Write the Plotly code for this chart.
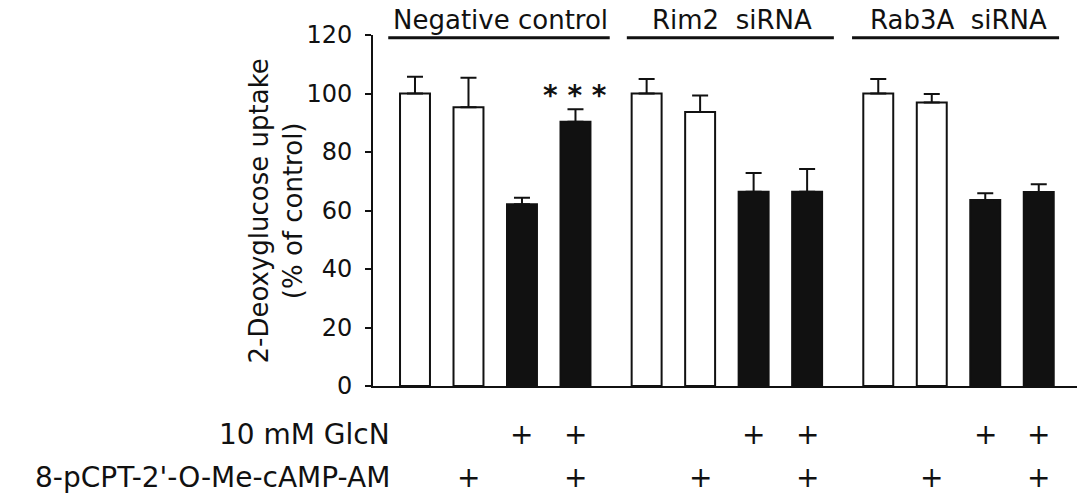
import plotly.graph_objects as go

# ---- data ----
groups = ["Negative control", "Rim2\u00a0 siRNA", "Rab3A\u00a0 siRNA"]
values = [100, 95.3, 62.1, 90.3, 100, 93.7, 66.4, 66.4, 100, 96.9, 63.6, 66.3]
errors = [5.7, 10.1, 2.3, 4.3, 5.0, 5.6, 6.4, 7.8, 5.0, 2.9, 2.3, 2.7]
filled = [0, 0, 1, 1, 0, 0, 1, 1, 0, 0, 1, 1]
glcn = [0, 0, 1, 1, 0, 0, 1, 1, 0, 0, 1, 1]
camp = [0, 1, 0, 1, 0, 1, 0, 1, 0, 1, 0, 1]
row_labels = ["10 mM GlcN", "8-pCPT-2'-O-Me-cAMP-AM"]
signif = {3: "<b>* * *</b>"}
yticks = [0, 20, 40, 60, 80, 100, 120]

# ---- layout helpers ----
per_group = 4
gap = 0.33
xpos = [(i // per_group) * (per_group + gap) + (i % per_group) for i in range(len(values))]
xmin, xmax = -0.785, 12.375
FONT = "DejaVu Sans"
INK = "#111111"

def xpaper(v):
    return (v - xmin) / (xmax - xmin)

fig = go.Figure()
fig.add_trace(go.Bar(
    x=xpos, y=values, width=0.56,
    marker=dict(color=[INK if f else "white" for f in filled],
                line=dict(color=INK, width=2)),
    error_y=dict(type="data", symmetric=False, array=errors,
                 arrayminus=[0] * len(errors), color=INK, thickness=2, width=8),
    showlegend=False, hoverinfo="skip",
))

ann = []
# group labels and underlines
ul_off = [(-0.50, 0.64), (-0.37, 0.50), (-0.49, 0.38)]
label_shift = [0.09, 0.09, 0.0]
shapes = []
for g, name in enumerate(groups):
    first = xpos[g * per_group]
    last = xpos[g * per_group + per_group - 1]
    x0 = first + ul_off[g][0]
    x1 = last + ul_off[g][1]
    shapes.append(dict(type="line", xref="paper", yref="paper",
                       x0=xpaper(x0), x1=xpaper(x1), y0=0.9923, y1=0.9923,
                       line=dict(color=INK, width=3)))
    ann.append(dict(text=name, xref="paper", yref="paper",
                    x=xpaper((first + last) / 2 + label_shift[g]), y=1.044,
                    xanchor="center", yanchor="middle", showarrow=False,
                    font=dict(family=FONT, size=26, color=INK)))

# significance
for i, s in signif.items():
    ann.append(dict(text=s, x=xpos[i], y=values[i] + errors[i], xref="x", yref="y",
                    xanchor="center", yanchor="middle", yshift=14, showarrow=False,
                    font=dict(family=FONT, size=28, color=INK)))

# treatment rows
row_y = [-0.1396, -0.2593]
for r, flags in enumerate([glcn, camp]):
    ann.append(dict(text=row_labels[r], xref="paper", yref="paper",
                    x=0.027, y=row_y[r], xanchor="right", yanchor="middle",
                    showarrow=False, font=dict(family=FONT, size=28, color=INK)))
    for i, f in enumerate(flags):
        if f:
            ann.append(dict(text="+", xref="x", yref="paper", x=xpos[i], y=row_y[r],
                            xanchor="center", yanchor="middle", showarrow=False,
                            font=dict(family=FONT, size=28, color=INK)))

# y title
ann.append(dict(text="2-Deoxyglucose uptake<br>(% of control)", xref="paper", yref="paper",
                x=-0.1378, y=0.5, xanchor="center", yanchor="middle", textangle=-90,
                showarrow=False, font=dict(family=FONT, size=26, color=INK)))

fig.update_layout(
    width=1077, height=495,
    margin=dict(l=373, r=0, t=35, b=109),
    paper_bgcolor="white", plot_bgcolor="white",
    annotations=ann, shapes=shapes,
    xaxis=dict(range=[xmin, xmax], showgrid=False, zeroline=False, showline=True,
               linecolor=INK, linewidth=2, showticklabels=False, ticks=""),
    yaxis=dict(range=[0, 120], tickvals=yticks, showgrid=False, zeroline=False,
               showline=True, linecolor=INK, linewidth=2, ticks="outside",
               ticklen=6, tickwidth=2, tickcolor=INK, ticklabelstandoff=8,
               tickfont=dict(family=FONT, size=24, color=INK)),
)

fig.write_html("out.html")
